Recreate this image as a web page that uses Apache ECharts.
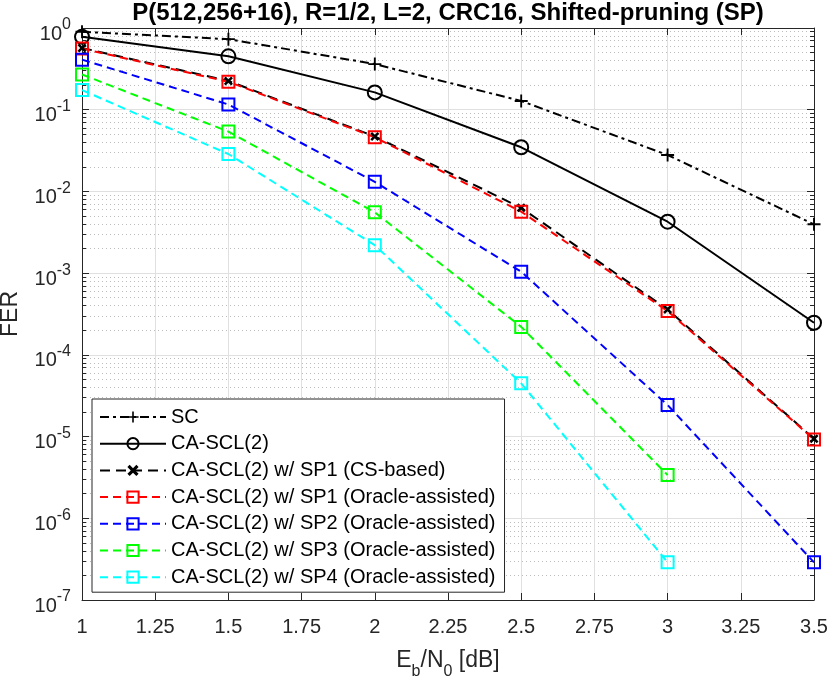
<!DOCTYPE html>
<html lang="en">
<head>
<meta charset="UTF-8">
<title>FER vs Eb/N0</title>
<script src="https://cdn.jsdelivr.net/npm/echarts@6/dist/echarts.min.js"></script>
<style>
  html, body { margin: 0; padding: 0; background: #fff; }
  #chart { width: 830px; height: 682px; }
</style>
</head>
<body>
<div id="chart"></div>
<script>
// Eb/N0 points and FER values
var ebn0 = [1, 1.5, 2, 2.5, 3, 3.5];
var ferSC    = [0.90, 0.73, 0.362, 0.128, 0.0279, 0.00396];
var ferSCL   = [0.78, 0.45, 0.163, 0.0347, 0.00426, 0.000247];
var ferSP1cs = [0.57, 0.225, 0.047, 0.0063, 0.00036, 9.4e-6];
var ferSP1   = [0.56, 0.22, 0.046, 0.00565, 0.000344, 9.24e-6];
var ferSP2   = [0.41, 0.116, 0.0131, 0.00104, 2.43e-5, 2.89e-7];
var ferSP3   = [0.27, 0.054, 0.00555, 0.00022, 3.38e-6];
var ferSP4   = [0.174, 0.0287, 0.0022, 4.48e-5, 2.89e-7];

var seriesNames = [
    'SC',
    'CA-SCL(2)',
    'CA-SCL(2) w/ SP1 (CS-based)',
    'CA-SCL(2) w/ SP1 (Oracle-assisted)',
    'CA-SCL(2) w/ SP2 (Oracle-assisted)',
    'CA-SCL(2) w/ SP3 (Oracle-assisted)',
    'CA-SCL(2) w/ SP4 (Oracle-assisted)'
];

// y ticks: decades and the 2..9 minor lines in between
var yMajor = [1e-7, 1e-6, 1e-5, 1e-4, 1e-3, 1e-2, 1e-1, 1];
var yMinor = [];
for (var k = -7; k < 0; k++) {
    for (var m = 2; m <= 9; m++) {
        yMinor.push(m * Math.pow(10, k));
    }
}

var FONT = "'Liberation Sans', Helvetica, Arial, sans-serif";
var AX = '#262626';

function pairs(ys) {
    var out = [];
    for (var i = 0; i < ys.length; i++) out.push([ebn0[i], ys[i]]);
    return out;
}

var plusPath = 'path://M-1,-7H1V-1H7V1H1V7H-1V1H-7V-1H-1Z';
var crossPath = 'path://M-5,-3L-3,-5L0,-2L3,-5L5,-3L2,0L5,3L3,5L0,2L-3,5L-5,3L-2,0Z';

function squareSeries(name, ys, color) {
    return {
        name: name, type: 'line', data: pairs(ys),
        symbol: 'rect', symbolSize: 12,
        lineStyle: { color: color, width: 2, type: [8, 5] },
        itemStyle: { color: 'rgba(0,0,0,0)', borderColor: color, borderWidth: 2 }
    };
}

var chart = echarts.init(document.getElementById('chart'));

chart.setOption({
    animation: false,
    backgroundColor: '#fff',
    textStyle: { fontFamily: FONT },
    title: {
        text: 'P(512,256+16), R=1/2, L=2, CRC16, Shifted-pruning (SP)',
        left: 448, top: 1, textAlign: 'center', padding: 0,
        textStyle: { fontSize: 24, fontWeight: 'bold', color: '#000', fontFamily: FONT }
    },
    grid: { left: 82, right: 16, top: 28, bottom: 82, containLabel: false, outerBoundsMode: 'none' },
    legend: {
        orient: 'vertical', left: 92, top: 399,
        padding: [8, 9, 5, 7],
        itemWidth: 66, itemHeight: 14, itemGap: 6.7,
        borderColor: AX, borderWidth: 1, backgroundColor: '#fff',
        textStyle: { fontSize: 20, color: '#000', fontFamily: FONT },
        data: seriesNames
    },
    xAxis: [{
        type: 'value', position: 'bottom', min: 1, max: 3.5, interval: 0.25,
        axisLine: { lineStyle: { color: AX, width: 1 } },
        axisTick: { inside: true, length: 7, lineStyle: { color: AX } },
        axisLabel: { fontSize: 20, color: AX, margin: 17, fontFamily: FONT },
        splitLine: { show: true, lineStyle: { color: '#e0e0e0', width: 1 } },
        name: '{n|E}{s|b}{n|/N}{s|0}{n| [dB]}',
        nameLocation: 'middle', nameGap: 53,
        nameTextStyle: {
            rich: {
                n: { fontSize: 23, color: AX, fontFamily: FONT, lineHeight: 26, padding: [0, 0, 10, 0] },
                s: { fontSize: 16, color: AX, fontFamily: FONT, lineHeight: 16, padding: [16, 0, 4, 0] }
            }
        }
    }, {
        type: 'value', position: 'top', min: 1, max: 3.5, interval: 0.25,
        axisLine: { lineStyle: { color: AX, width: 1 } },
        axisTick: { inside: true, length: 7, lineStyle: { color: AX } },
        axisLabel: { show: false },
        splitLine: { show: false }
    }],
    yAxis: [{
        type: 'log', position: 'left', min: 1e-7, max: 1,
        axisLine: { show: true, lineStyle: { color: AX, width: 1 } },
        axisTick: { inside: true, length: 7, lineStyle: { color: AX }, customValues: yMajor },
        axisLabel: {
            customValues: yMajor, margin: 11,
            formatter: function (v) {
                var e = Math.round(Math.log10(v));
                return '{b|10}{s|' + e + '}';
            },
            rich: {
                b: { fontSize: 20, color: AX, fontFamily: FONT, lineHeight: 20, padding: [12, 0, 0, 0] },
                s: { fontSize: 16, color: AX, fontFamily: FONT, lineHeight: 16, padding: [5, 0, 11, 0] }
            }
        },
        splitLine: { show: true, lineStyle: { color: '#e0e0e0', width: 1 } },
        name: 'FER', nameLocation: 'middle', nameGap: 60, nameRotate: 90,
        nameTextStyle: { fontSize: 23, color: AX, fontFamily: FONT }
    }, {
        type: 'log', position: 'left', min: 1e-7, max: 1,
        axisLine: { show: false },
        axisTick: { inside: true, length: 4, lineStyle: { color: AX }, customValues: yMinor },
        axisLabel: { show: false },
        splitLine: { show: true, lineStyle: { color: '#bdbdbd', width: 1, type: [1, 3] } }
    }, {
        type: 'log', position: 'right', min: 1e-7, max: 1,
        axisLine: { show: true, lineStyle: { color: AX, width: 1 } },
        axisTick: { inside: true, length: 7, lineStyle: { color: AX }, customValues: yMajor },
        axisLabel: { show: false },
        splitLine: { show: false }
    }, {
        type: 'log', position: 'right', min: 1e-7, max: 1,
        axisLine: { show: false },
        axisTick: { inside: true, length: 4, lineStyle: { color: AX }, customValues: yMinor },
        axisLabel: { show: false },
        splitLine: { show: false }
    }],
    series: [{
        name: seriesNames[0], type: 'line', data: pairs(ferSC),
        symbol: plusPath, symbolSize: 13,
        lineStyle: { color: '#000', width: 2, type: [9, 4, 3, 4] },
        itemStyle: { color: '#000' }
    }, {
        name: seriesNames[1], type: 'line', data: pairs(ferSCL),
        symbol: 'circle', symbolSize: 14,
        lineStyle: { color: '#000', width: 2 },
        itemStyle: { color: 'rgba(0,0,0,0)', borderColor: '#000', borderWidth: 2 }
    }, {
        name: seriesNames[2], type: 'line', data: pairs(ferSP1cs),
        symbol: crossPath, symbolSize: 9,
        lineStyle: { color: '#000', width: 2, type: [10, 6] },
        itemStyle: { color: '#000' }
    },
        squareSeries(seriesNames[3], ferSP1, '#ff0000'),
        squareSeries(seriesNames[4], ferSP2, '#0000ff'),
        squareSeries(seriesNames[5], ferSP3, '#00ff00'),
        squareSeries(seriesNames[6], ferSP4, '#00ffff')
    ]
});
</script>
</body>
</html>
